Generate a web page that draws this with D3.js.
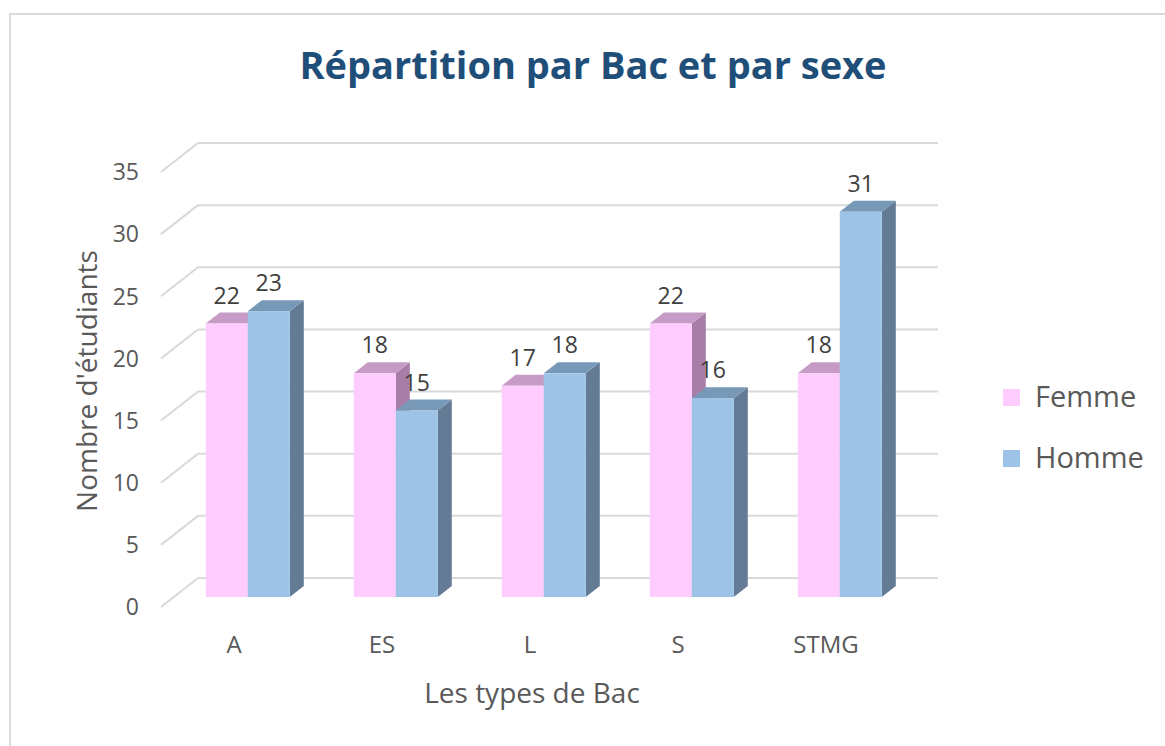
<!DOCTYPE html>
<html><head><meta charset="utf-8">
<script src="https://cdn.jsdelivr.net/npm/d3@7"></script>
<style>body{margin:0;background:#fff}svg{display:block}text{font-family:"Open Sans",sans-serif}</style>
</head><body>
<svg id="c" width="1165" height="746"></svg>
<script>
const categories = ["A","ES","L","S","STMG"];
const seriesNames = ["Femme","Homme"];
const femme = [22,18,17,22,18];
const homme = [23,15,18,16,31];
const yTicks = [0,5,10,15,20,25,30,35];

const colors = {
  Femme: {front:"#FFCCFF", top:"#C69CC6", side:"#A87EA8"},
  Homme: {front:"#9DC3E6", top:"#7898B8", side:"#637B94"}
};

const svg = d3.select("#c");
svg.append("rect").attr("x",10).attr("y",14).attr("width",1170).attr("height",750)
  .attr("fill","#fff").attr("stroke","#D9D9D9").attr("stroke-width",2);

const depthDX = 37, depthDY = -29;
const frontLeft = 161, frontRight = 901, frontBase = 607;
const x = d3.scaleBand().domain(categories).range([frontLeft, frontRight]);
const y = d3.scaleLinear().domain([0,35]).range([frontBase, frontBase-435]);
const proj = (px, py, z) => [px + depthDX*z, py + depthDY*z];

const g = svg.append("g");
yTicks.forEach(t => {
  const [bx, by] = proj(frontLeft, y(t), 1);
  const [bx2] = proj(frontRight, y(t), 1);
  g.append("line").attr("x1",bx).attr("y1",by).attr("x2",bx2).attr("y2",by)
    .attr("stroke","#D9D9D9").attr("stroke-width",2);
  g.append("line").attr("x1",frontLeft).attr("y1",y(t)).attr("x2",bx).attr("y2",by)
    .attr("stroke","#D9D9D9").attr("stroke-width",2);
  g.append("text").attr("x",139).attr("y",y(t)).attr("dy","0.36em")
    .attr("text-anchor","end").attr("fill","#595959").attr("font-size",23).text(t);
});

const zF = 10/29, zB = 21/29;
const barW = 42;
const data = [];
categories.forEach((c,i) => {
  data.push({cat:c, s:"Femme", v:femme[i], k:0});
  data.push({cat:c, s:"Homme", v:homme[i], k:1});
});
const bars = svg.append("g");
data.forEach(d => {
  const cx = x(d.cat) + x.bandwidth()/2;
  const x0f = cx - barW + d.k*barW;
  const [fx0, fyb] = proj(x0f, y(0), zF);
  const fyt = proj(x0f, y(d.v), zF)[1];
  const fx1 = fx0 + barW;
  const ddx = depthDX*(zB-zF), ddy = depthDY*(zB-zF);
  const col = colors[d.s];
  bars.append("path").attr("d",`M${fx1},${fyt}L${fx1+ddx},${fyt+ddy}L${fx1+ddx},${fyb+ddy}L${fx1},${fyb}Z`).attr("fill",col.side);
  bars.append("path").attr("d",`M${fx0},${fyt}L${fx0+ddx},${fyt+ddy}L${fx1+ddx},${fyt+ddy}L${fx1},${fyt}Z`).attr("fill",col.top);
  bars.append("rect").attr("x",fx0).attr("y",fyt).attr("width",barW).attr("height",fyb-fyt).attr("fill",col.front);
  bars.append("text").attr("x",fx0+barW/2).attr("y",fyt-20).attr("text-anchor","middle")
    .attr("fill","#404040").attr("font-size",23).text(d.v);
});

categories.forEach(c => {
  svg.append("text").attr("x",x(c)+x.bandwidth()/2-1).attr("y",653).attr("text-anchor","middle")
    .attr("fill","#595959").attr("font-size",24).text(c);
});

svg.append("text").attr("x",532).attr("y",703).attr("text-anchor","middle")
  .attr("fill","#595959").attr("font-size",28).text("Les types de Bac");
svg.append("text").attr("transform","translate(97,381) rotate(-90)").attr("text-anchor","middle")
  .attr("fill","#595959").attr("font-size",28).text("Nombre d'étudiants");

svg.append("text").attr("x",593).attr("y",79).attr("text-anchor","middle")
  .attr("fill","#1F4E79").attr("font-size",38).attr("font-weight","bold").text("Répartition par Bac et par sexe");

seriesNames.forEach((s,i) => {
  const ly = 397 + i*61;
  svg.append("rect").attr("x",1003).attr("y",ly-8).attr("width",17).attr("height",17).attr("fill",colors[s].front);
  svg.append("text").attr("x",1035).attr("y",ly).attr("dy","0.35em").attr("fill","#595959")
    .attr("font-size",29).text(s);
});
</script>
</body></html>
